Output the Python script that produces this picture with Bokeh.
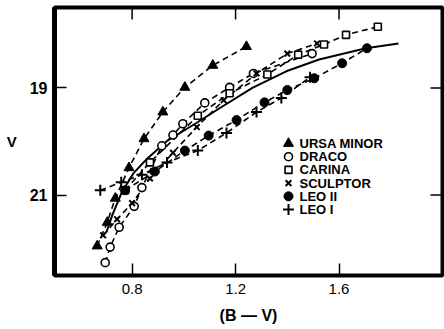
from bokeh.plotting import figure
from bokeh.models import Range1d, FixedTicker
from bokeh.core.properties import value
from bokeh.embed import file_html
from bokeh.resources import INLINE

# Fiducial giant-branch sequences of dwarf spheroidal galaxies: (B-V) colour vs V magnitude
ursa_minor_bv = [0.665, 0.704, 0.735, 0.788, 0.846, 0.919, 1.004, 1.112, 1.242]
ursa_minor_v = [21.95, 21.51, 21.06, 20.49, 19.95, 19.45, 18.99, 18.58, 18.23]

draco_bv = [0.696, 0.715, 0.750, 0.808, 0.838, 0.915, 0.958, 0.996, 1.081, 1.177, 1.269, 1.496]
draco_v = [22.26, 21.97, 21.60, 21.21, 20.86, 20.08, 19.88, 19.67, 19.28, 18.99, 18.73, 18.36]

carina_bv = [0.773, 0.869, 1.054, 1.177, 1.323, 1.442, 1.542, 1.627, 1.750]
carina_v = [20.91, 20.39, 19.52, 19.10, 18.75, 18.38, 18.19, 18.01, 17.86]

sculptor_bv = [0.688, 0.742, 0.800, 0.869, 0.958, 1.050, 1.154, 1.281, 1.400, 1.515]
sculptor_v = [21.75, 21.45, 21.15, 20.69, 20.21, 19.73, 19.23, 18.73, 18.36, 18.17]

leo2_bv = [0.773, 0.888, 1.004, 1.096, 1.204, 1.312, 1.400, 1.504, 1.612, 1.708]
leo2_v = [20.91, 20.56, 20.17, 19.89, 19.60, 19.27, 19.04, 18.82, 18.54, 18.26]

leo1_bv = [0.677, 0.758, 0.838, 0.935, 1.054, 1.165, 1.281, 1.377, 1.488]
leo1_v = [20.91, 20.76, 20.62, 20.39, 20.17, 19.84, 19.45, 19.19, 18.80]

# Smooth comparison sequence (solid curve)
fiducial_bv = [0.700, 0.723, 0.760, 0.804, 0.858, 0.935, 1.050, 1.138, 1.265, 1.396, 1.523, 1.704, 1.830]
fiducial_v = [21.70, 21.38, 20.95, 20.60, 20.32, 19.99, 19.65, 19.38, 19.00, 18.69, 18.47, 18.26, 18.17]

legend_names = ["URSA MINOR", "DRACO", "CARINA", "SCULPTOR", "LEO II", "LEO I"]

x_ticks = [0.8, 1.2, 1.6]
y_ticks = [19, 21]

FONT = "Liberation Sans"
X_LO, X_HI = 0.5, 2.0
V_FAINT, V_BRIGHT = 22.5, 17.5

W, H = 444, 329
BORDER_L, BORDER_R, BORDER_T, BORDER_B = 54, 2, 7, 54
FRAME_W = W - BORDER_L - BORDER_R
FRAME_H = H - BORDER_T - BORDER_B
TICK_PX = 12

p = figure(width=W, height=H,
           x_range=Range1d(X_LO, X_HI), y_range=Range1d(V_FAINT, V_BRIGHT),
           output_backend="svg", toolbar_location=None,
           min_border_left=BORDER_L, min_border_right=BORDER_R,
           min_border_top=BORDER_T, min_border_bottom=BORDER_B,
           background_fill_color="white", border_fill_color="white")

p.grid.visible = False
p.outline_line_color = "black"
p.outline_line_width = 4

xa = p.xaxis[0]
ya = p.yaxis[0]
for ax, ticks in ((xa, x_ticks), (ya, y_ticks)):
    ax.ticker = FixedTicker(ticks=ticks)
    ax.major_tick_in = TICK_PX
    ax.major_tick_out = 0
    ax.minor_tick_line_color = None
    ax.major_tick_line_width = 1.5
    ax.major_tick_line_color = "black"
    ax.axis_line_color = "black"
    ax.major_label_text_font = FONT
    ax.major_label_text_color = "black"
    ax.axis_label_text_font = FONT
    ax.axis_label_text_color = "black"
    ax.axis_label_text_font_style = "bold"

xa.axis_line_width = 3
ya.axis_line_width = 5
xa.major_label_text_font_size = "15px"
xa.major_label_standoff = 8
xa.axis_label = "(B — V)"
xa.axis_label_text_font_size = "16px"
xa.axis_label_standoff = 10

ya.major_label_text_font_size = "16px"
ya.major_label_text_font_style = "bold"
ya.major_label_standoff = 7
ya.axis_label = "V"
ya.axis_label_text_font_size = "15px"
ya.axis_label_orientation = "horizontal"
ya.axis_label_standoff = 10

# Inward mirror ticks along the top and right edges of the frame
dx_tick = TICK_PX * (X_HI - X_LO) / FRAME_W
dv_tick = TICK_PX * (V_FAINT - V_BRIGHT) / FRAME_H
p.segment(x0=x_ticks, y0=[V_BRIGHT] * len(x_ticks), x1=x_ticks,
          y1=[V_BRIGHT + dv_tick] * len(x_ticks), line_color="black", line_width=1.5)
p.segment(x0=[X_HI] * len(y_ticks), y0=y_ticks, x1=[X_HI - dx_tick] * len(y_ticks),
          y1=y_ticks, line_color="black", line_width=1.5)

DASH = "6 4"

# Connecting dashed lines for each galaxy
for bv, v in ((ursa_minor_bv, ursa_minor_v), (draco_bv, draco_v), (carina_bv, carina_v),
              (sculptor_bv, sculptor_v), (leo2_bv, leo2_v), (leo1_bv, leo1_v)):
    p.line(bv, v, line_color="black", line_width=1.6, line_dash=DASH)

p.line(fiducial_bv, fiducial_v, line_color="black", line_width=2)

styles = [
    dict(marker="triangle", size=10, fill_color="black", line_color="black"),
    dict(marker="circle", size=8, fill_color="white", line_color="black", line_width=1.6),
    dict(marker="square", size=7, fill_color="white", line_color="black", line_width=1.6),
    dict(marker="x", size=8, line_color="black", line_width=2),
    dict(marker="circle", size=9, fill_color="black", line_color="black"),
    dict(marker="cross", size=11, line_color="black", line_width=2),
]
series = [(ursa_minor_bv, ursa_minor_v), (draco_bv, draco_v), (carina_bv, carina_v),
          (sculptor_bv, sculptor_v), (leo2_bv, leo2_v), (leo1_bv, leo1_v)]
for (bv, v), st in zip(series, styles):
    p.scatter(bv, v, **st)

# Key: symbol column and label column inside the frame, rows spaced evenly
KEY_X = X_LO + (288 - BORDER_L) * (X_HI - X_LO) / FRAME_W
LABEL_X = X_LO + (299 - BORDER_L) * (X_HI - X_LO) / FRAME_W
ROW0_V = V_BRIGHT + (143 - BORDER_T) * (V_FAINT - V_BRIGHT) / FRAME_H
ROW_STEP = 13.2 * (V_FAINT - V_BRIGHT) / FRAME_H
for i, (name, st) in enumerate(zip(legend_names, styles)):
    row_v = ROW0_V + i * ROW_STEP
    p.scatter([KEY_X], [row_v], **st)
    p.text([LABEL_X], [row_v], text=[name], text_font=value(FONT),
           text_font_size="13px", text_font_style="bold", text_color="black",
           text_baseline="middle", text_align="left")

open("out.html", "w").write(file_html(p, INLINE))
